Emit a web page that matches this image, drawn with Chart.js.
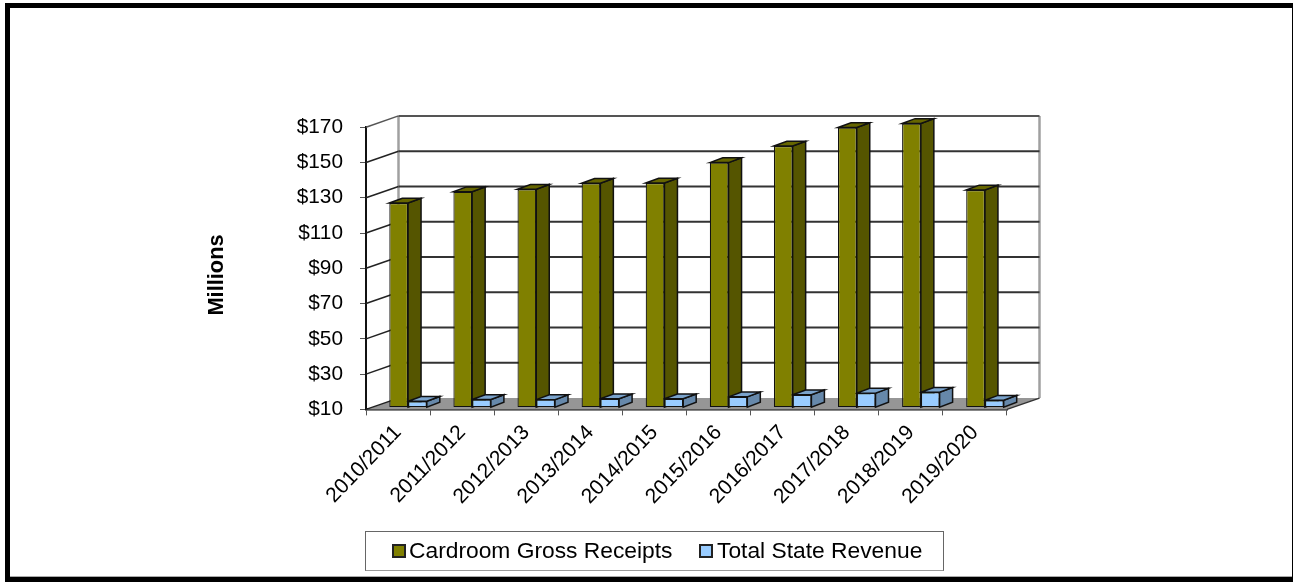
<!DOCTYPE html>
<html>

<head>
  <meta charset="UTF-8">
  <script src="https://cdn.jsdelivr.net/npm/chart.js"></script>
  <title>Cardroom Revenue</title>
  <style>
    html, body { margin: 0; padding: 0; background: #fff; }
    body { width: 1293px; height: 582px; overflow: hidden; position: relative; }
    #myChart { position: absolute; left: 0; top: 0; }
    #frame { position: absolute; left: 5px; top: 3px; right: 0; bottom: 0; border-style: solid; border-color: #000; border-width: 5px 1px 5px 5px; box-shadow: inset 0 -1px 0 #aaa; pointer-events: none; }
    #legend { position: absolute; left: 365px; top: 531px; width: 577px; height: 38px; border: 1px solid #666; border-bottom-color: #999;
      font: 22.8px "Liberation Sans", Arial, sans-serif; color: #000; line-height: 37px; white-space: nowrap; }
    #legend span { position: absolute; top: 0; }
    #legend i { position: absolute; top: 12px; width: 10px; height: 10px; border: 2px solid #222; }
  </style>
</head>

<body>
  <canvas id="myChart" width="1293" height="582"></canvas>
  <div id="frame"></div>
  <div id="legend"></div>

<script>
  var categories = ['2010/2011', '2011/2012', '2012/2013', '2013/2014', '2014/2015', '2015/2016', '2016/2017', '2017/2018', '2018/2019', '2019/2020'];
  var grossReceipts = [126, 132.4, 133.8, 137.2, 137.3, 148.9, 158.3, 168.8, 171.1, 133.4];
  var stateRevenue = [13.6, 14.6, 14.5, 15, 15, 16.1, 17.3, 18.2, 18.7, 14.2];
  var yTicks = [10, 30, 50, 70, 90, 110, 130, 150, 170];

  var colors = {
    gold: { front: '#808000', side: '#555500', top: '#666600' },
    blue: { front: '#99CCFF', side: '#6688AA', top: '#7AA3CC' }
  };

  // depth of the fake 3D box, and of each bar inside it
  var boxDx = 32.5, boxDy = 11.3;
  var barDx = 13, barDy = 4.8;
  var barShiftX = 10, barShiftY = 1.8;

  function poly(ctx, pts, fill, stroke, lw) {
    ctx.beginPath();
    ctx.moveTo(pts[0][0], pts[0][1]);
    for (var i = 1; i < pts.length; i++) ctx.lineTo(pts[i][0], pts[i][1]);
    ctx.closePath();
    if (fill) { ctx.fillStyle = fill; ctx.fill(); }
    if (stroke) { ctx.strokeStyle = stroke; ctx.lineWidth = lw; ctx.stroke(); }
  }

  function line(ctx, x1, y1, x2, y2, color, lw) {
    ctx.beginPath();
    ctx.moveTo(x1, y1);
    ctx.lineTo(x2, y2);
    ctx.strokeStyle = color;
    ctx.lineWidth = lw;
    ctx.stroke();
  }

  var box3d = {
    id: 'box3d',
    beforeDatasetsDraw: function (chart) {
      var ctx = chart.ctx, a = chart.chartArea, y = chart.scales.y;
      ctx.save();
      // floor
      poly(ctx, [[a.left, a.bottom], [a.right, a.bottom], [a.right + boxDx, a.bottom - boxDy], [a.left + boxDx, a.bottom - boxDy]], '#969696');
      // back wall edges
      line(ctx, a.left + boxDx, a.top - boxDy, a.left + boxDx, a.bottom - boxDy, '#a0a0a0', 2.5);
      line(ctx, a.right + boxDx, a.top - boxDy, a.right + boxDx, a.bottom - boxDy, '#a0a0a0', 2.5);
      // grid lines on side wall and back wall
      yTicks.forEach(function (t) {
        var py = y.getPixelForValue(t);
        var top = t === yTicks[yTicks.length - 1];
        line(ctx, a.left, py, a.left + boxDx, py - boxDy, top ? '#555' : '#222', 1.5);
        if (t > yTicks[0]) line(ctx, a.left + boxDx, py - boxDy, a.right + boxDx, py - boxDy, top ? '#555' : '#333', 2);
      });
      line(ctx, a.right, a.bottom, a.right + boxDx, a.bottom - boxDy, '#333', 1.5);

      // side and top faces, gold first so blue sits over it
      ctx.translate(barShiftX, -barShiftY);
      [[0, colors.gold], [1, colors.blue]].forEach(function (d) {
        chart.getDatasetMeta(d[0]).data.forEach(function (bar) {
          var l = bar.x - bar.width / 2, r = bar.x + bar.width / 2;
          poly(ctx, [[r, bar.y], [r + barDx, bar.y - barDy], [r + barDx, bar.base - barDy], [r, bar.base]], d[1].side, '#111', 1.5);
          poly(ctx, [[l, bar.y], [l + barDx, bar.y - barDy], [r + barDx, bar.y - barDy], [r, bar.y]], d[1].top, '#111', 1.5);
        });
      });
      // fronts are drawn by the chart itself, in the same shifted position
    },
    afterDatasetsDraw: function (chart) {
      chart.ctx.restore();
    },
    afterDraw: function (chart) {
      // axis title sits lower than the middle of the axis
      var ctx = chart.ctx;
      ctx.save();
      ctx.translate(217, 275);
      ctx.rotate(-Math.PI / 2);
      ctx.font = 'bold 21.8px "Liberation Sans", Arial';
      ctx.fillStyle = '#000';
      ctx.textAlign = 'center';
      ctx.textBaseline = 'middle';
      ctx.fillText('Millions', 0, 0);
      ctx.restore();
    }
  };

  new Chart(document.getElementById('myChart'), {
    type: 'bar',
    data: {
      labels: categories,
      datasets: [
        { label: 'Cardroom Gross Receipts', data: grossReceipts, base: 10, backgroundColor: colors.gold.front, borderColor: '#111', borderWidth: 1.2, borderSkipped: false, clip: false, categoryPercentage: 0.585, barPercentage: 1 },
        { label: 'Total State Revenue', data: stateRevenue, base: 10, backgroundColor: colors.blue.front, borderColor: '#111', borderWidth: 1.2, borderSkipped: false, clip: false, categoryPercentage: 0.585, barPercentage: 1 }
      ]
    },
    plugins: [box3d],
    options: {
      responsive: false,
      animation: false,
      devicePixelRatio: 1,
      layout: { padding: { left: 205, top: 127.2, right: 286, bottom: 0 } },
      plugins: { legend: { display: false }, tooltip: { enabled: false } },
      scales: {
        x: {
          offset: true,
          afterFit: function (scale) { scale.height = 172.6; },
          grid: { offset: true, drawOnChartArea: false, drawTicks: true, tickLength: 6, color: '#555', lineWidth: 1 },
          border: { display: true, color: '#111', width: 2.5 },
          ticks: { autoSkip: false, maxRotation: 46, minRotation: 46, padding: 5, color: '#000', font: { family: '"Liberation Sans", Arial', size: 21 } }
        },
        y: {
          min: 10,
          max: 170,
          afterFit: function (scale) { scale.width = 161; },
          afterBuildTicks: function (scale) { scale.ticks = yTicks.map(function (v) { return { value: v }; }); },
          grid: { drawOnChartArea: false, tickLength: 6, color: '#555', lineWidth: 1 },
          border: { display: true, color: '#111', width: 2 },
          ticks: { padding: 17, color: '#000', callback: function (v) { return '$' + v; }, font: { family: '"Liberation Sans", Arial', size: 20.8 } }
        }
      }
    }
  });

  // html legend, the chart's own one can't get the tight marker gap
  var legendItems = [
    { label: 'Cardroom Gross Receipts', color: colors.gold.front, marker: 26, text: 43 },
    { label: 'Total State Revenue', color: colors.blue.front, marker: 333, text: 351 }
  ];
  var legendEl = document.getElementById('legend');
  legendItems.forEach(function (item) {
    var m = document.createElement('i');
    m.style.left = item.marker + 'px';
    m.style.background = item.color;
    legendEl.appendChild(m);
    var s = document.createElement('span');
    s.style.left = item.text + 'px';
    s.textContent = item.label;
    legendEl.appendChild(s);
  });
</script>
</body>

</html>
